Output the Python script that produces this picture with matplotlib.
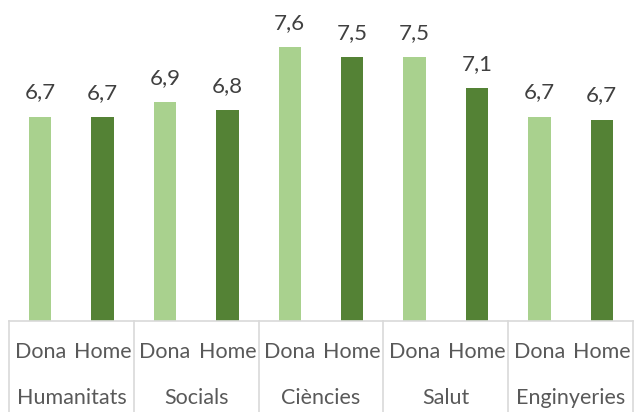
import matplotlib.pyplot as plt
from matplotlib.lines import Line2D

plt.rcParams['font.family'] = ['Lato', 'DejaVu Sans']

# dades
arees = ['Humanitats', 'Socials', 'Ciències', 'Salut', 'Enginyeries']
sexes = ['Dona', 'Home']
dona = [6.69, 6.88, 7.60, 7.47, 6.69]
home = [6.68, 6.78, 7.47, 7.07, 6.65]

color_dona = '#A9D18E'
color_home = '#548235'
gris = '#D9D9D9'

fig = plt.figure(figsize=(6.35, 4.12), dpi=100)
W, H = 635, 412
x0, x1 = 9, 633
ybase, ytop = 321, 17
ax = fig.add_axes([x0 / W, (H - ybase) / H, (x1 - x0) / W, (ybase - ytop) / H])

valors = []
colors = []
for d, h in zip(dona, home):
    valors += [d, h]
    colors += [color_dona, color_home]
pos = list(range(len(valors)))

ax.bar(pos, valors, width=0.36, color=colors)
ax.set_ylim(4, 8)
ax.set_xlim(-0.5, len(valors) - 0.5)

for p, v in zip(pos, valors):
    ax.annotate(f'{round(v, 1):.1f}'.replace('.', ','), (p, v), xytext=(0, 13),
                textcoords='offset points', ha='center', va='baseline',
                fontsize=16, color='#404040')

for s in ax.spines.values():
    s.set_visible(False)
ax.set_xticks([])
ax.set_yticks([])

# eix de categories
tr = ax.get_xaxis_transform()
ax.add_line(Line2D([-0.5, len(valors) - 0.5], [0, 0], transform=tr,
                   color=gris, lw=1.2, clip_on=False))
ybottom = -(H - ybase) / (ybase - ytop)
for i in range(len(arees) + 1):
    xb = 2 * i - 0.5
    ax.add_line(Line2D([xb, xb], [0, ybottom], transform=tr,
                       color=gris, lw=1.2, clip_on=False))

y1 = -(352 - ybase) / (ybase - ytop)
y2 = -(398 - ybase) / (ybase - ytop)
for i, a in enumerate(arees):
    for j, s in enumerate(sexes):
        ax.text(2 * i + j, y1, s, transform=tr, ha='center', va='center',
                fontsize=15.5, color='#595959')
    ax.text(2 * i + 0.5, y2, a, transform=tr, ha='center', va='center',
            fontsize=15.5, color='#595959')

fig.savefig('out.png', dpi=100)
